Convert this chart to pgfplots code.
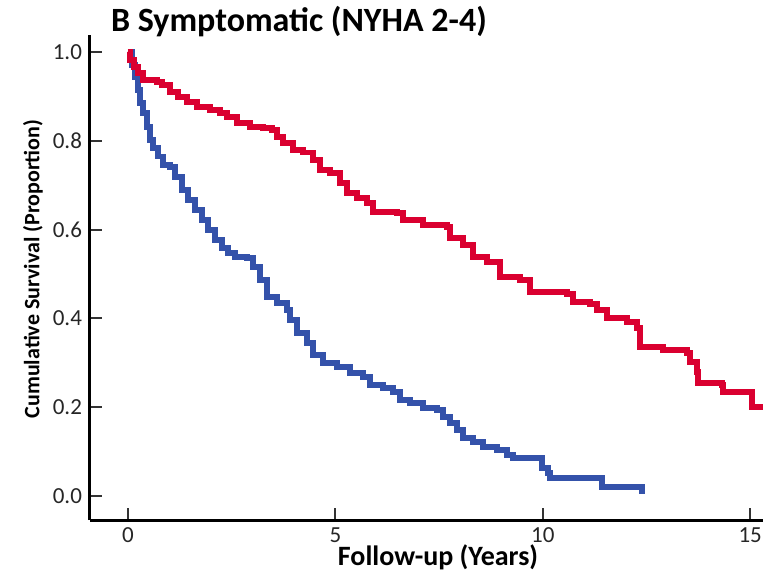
\documentclass[border=0pt]{standalone}
\usepackage{pgfplots}
\pgfplotsset{compat=1.18}
\usepackage{fontspec}
\setmainfont{Carlito}
\definecolor{kmred}{RGB}{218,0,48}
\definecolor{kmblue}{RGB}{52,82,170}
\begin{document}
\begin{tikzpicture}
\begin{axis}[
  at={(0,0)}, anchor=south west,
  scale only axis,
  width=336.5pt, height=242.5pt,
  xmin=-0.916, xmax=15.31,
  ymin=-0.054, ymax=1.038,
  axis x line=bottom, axis y line=left,
  axis line style={-, line width=1.5pt, black},
  tick align=inside,
  major tick length=6pt,
  tick style={line width=1pt, black!80},
  xtick={0,5,10,15},
  ytick={0,0.2,0.4,0.6,0.8,1.0},
  /pgf/number format/assume math mode=true,
  yticklabel style={/pgf/number format/fixed, /pgf/number format/fixed zerofill, /pgf/number format/precision=1, font=\fontsize{11.5}{13}\selectfont, text=black!85, xshift=-0.5pt},
  xticklabel style={font=\fontsize{11.5}{13}\selectfont, text=black!85, yshift=-0.5pt},
  clip=true,
]
\addplot[const plot, color=kmblue, line width=2.8pt] coordinates {
(0,1.0) (0.10,0.971) (0.17,0.944) (0.24,0.914) (0.29,0.885) (0.36,0.863)
(0.46,0.831) (0.53,0.802) (0.60,0.784) (0.72,0.764) (0.84,0.745) (1.01,0.741)
(1.13,0.718) (1.30,0.689) (1.45,0.667) (1.62,0.644) (1.78,0.622) (1.93,0.599)
(2.10,0.577) (2.27,0.559) (2.41,0.547) (2.58,0.538) (2.87,0.536) (3.01,0.516)
(3.18,0.486) (3.35,0.448) (3.59,0.435) (3.83,0.419) (3.91,0.396) (4.08,0.367)
(4.32,0.345) (4.46,0.318) (4.70,0.300) (5.04,0.291) (5.35,0.277) (5.67,0.268)
(5.84,0.250) (6.15,0.243) (6.39,0.234) (6.56,0.216) (6.80,0.209) (7.11,0.198)
(7.45,0.194) (7.60,0.178) (7.76,0.164) (7.93,0.149) (8.08,0.131) (8.32,0.122)
(8.56,0.110) (8.90,0.104) (9.14,0.092) (9.28,0.086) (9.98,0.063) (10.13,0.052)
(10.18,0.041) (11.43,0.020) (12.39,0.005)
};
\addplot[const plot, color=kmred, line width=2.8pt] coordinates {
(0,1.0) (0.05,0.982) (0.14,0.966) (0.24,0.953) (0.36,0.937) (0.70,0.932)
(0.82,0.926) (1.01,0.910) (1.21,0.899) (1.42,0.887) (1.66,0.876) (1.98,0.869)
(2.22,0.863) (2.39,0.854) (2.63,0.840) (2.94,0.831) (3.26,0.829) (3.47,0.824)
(3.59,0.809) (3.74,0.795) (3.98,0.779) (4.22,0.773) (4.46,0.757) (4.63,0.734)
(4.87,0.727) (5.11,0.705) (5.28,0.682) (5.52,0.671) (5.76,0.660) (5.91,0.640)
(6.49,0.637) (6.63,0.622) (7.11,0.610) (7.69,0.606) (7.76,0.581) (8.08,0.565)
(8.32,0.538) (8.66,0.527) (8.97,0.493) (9.45,0.486) (9.69,0.459) (10.59,0.455)
(10.73,0.437) (11.14,0.432) (11.31,0.419) (11.55,0.401) (12.03,0.392) (12.27,0.378)
(12.35,0.336) (12.90,0.329) (13.48,0.322) (13.55,0.302) (13.72,0.279) (13.74,0.255)
(14.32,0.250) (14.35,0.234) (15.05,0.200) (15.40,0.200)
};
\end{axis}
\node[anchor=west, font=\fontsize{17}{20}\selectfont\bfseries] at (7pt,249pt) {B Symptomatic (NYHA 2-4)};
\node[rotate=90, font=\fontsize{11}{13}\selectfont\bfseries] at (-28.5pt,125.5pt) {Cumulative Survival (Proportion)};
\node[font=\fontsize{14}{16}\selectfont\bfseries] at (174pt,-18.5pt) {Follow-up (Years)};
\pgfresetboundingbox
\useasboundingbox (-45pt,-26.5pt) rectangle (336.5pt,260pt);
\end{tikzpicture}
\end{document}
